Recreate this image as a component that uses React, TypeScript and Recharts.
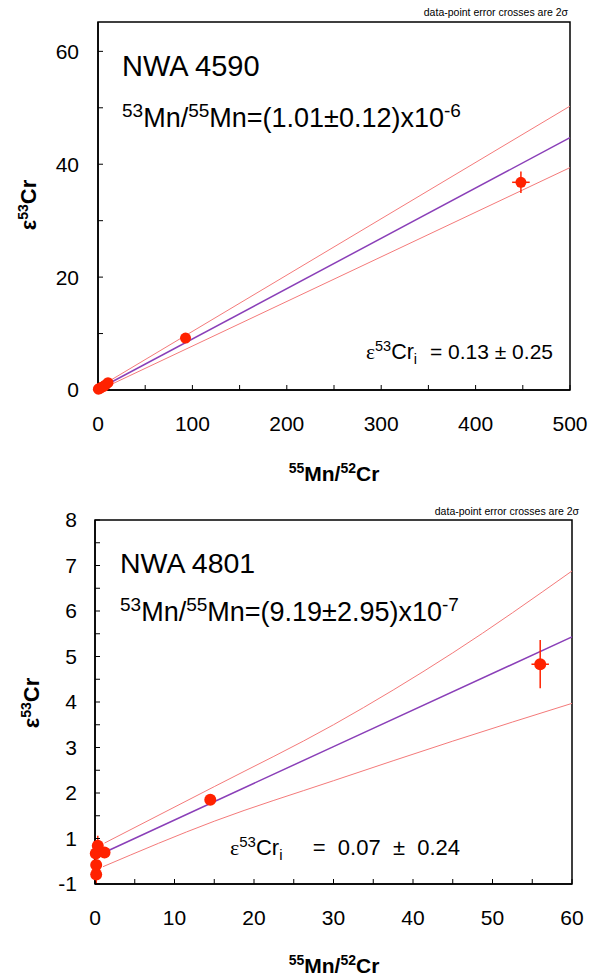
import { ComposedChart, Line, Scatter, ErrorBar, XAxis, YAxis, ReferenceArea } from 'recharts';

// NWA 4590 — measured points (55Mn/52Cr, e53Cr) and 2 sigma errors
const nwa4590Mn = [0.4, 1.2, 2.5, 4, 6, 8, 10.6, 92.7, 448];
const nwa4590Cr = [0.15, 0.25, 0.35, 0.5, 0.65, 0.9, 1.3, 9.2, 36.8];
const nwa4590MnErr = [0.3, 0.5, 0.5, 0.5, 0.5, 0.5, 0.8, 1.5, 9.3];
const nwa4590CrErr = [0.15, 0.25, 0.3, 0.3, 0.3, 0.3, 0.3, 0.4, 1.9];

// NWA 4590 — isochron and envelope
const nwa4590LineX = [0, 500];
const nwa4590Fit = [0.13, 44.7];
const nwa4590Upper = [0.4, 50.3];
const nwa4590LowerX = [1.5, 500];
const nwa4590Lower = [0, 39.4];

// NWA 4801 — measured points
const nwa4801Mn = [0.15, 0.15, 0.1, 1.2, 0.35, 14.5, 56.0];
const nwa4801Cr = [0.21, 0.42, 0.67, 0.69, 0.84, 1.85, 4.83];
const nwa4801MnErr = [0.15, 0.15, 0.1, 0.4, 0.3, 0.4, 1.1];
const nwa4801CrErr = [0.21, 0.1, 0.1, 0.12, 0.22, 0.1, 0.53];

// NWA 4801 — isochron and envelope
const nwa4801LineX = [0, 30, 60];
const nwa4801Fit = [0.6, 3.02, 5.43];
const nwa4801UpperX = [1.2, 15, 30, 45, 60];
const nwa4801Upper = [0.9, 2.14, 3.5, 5.08, 6.88];
const nwa4801LowerX = [1, 15, 30, 45, 60];
const nwa4801Lower = [0.38, 1.38, 2.27, 3.14, 3.97];

// axes
const topXTicks = [0, 50, 100, 150, 200, 250, 300, 350, 400, 450, 500];
const topXLabels: Record<number, string> = { 0: '0', 100: '100', 200: '200', 300: '300', 400: '400', 500: '500' };
const topYTicks = [0, 10, 20, 30, 40, 50, 60];
const topYLabels: Record<number, string> = { 0: '0', 20: '20', 40: '40', 60: '60' };

const botXTicks = [0, 5, 10, 15, 20, 25, 30, 35, 40, 45, 50, 55, 60];
const botXLabels: Record<number, string> = { 0: '0', 10: '10', 20: '20', 30: '30', 40: '40', 50: '50', 60: '60' };
const botYTicks = [0, 0.5, 1, 1.5, 2, 2.5, 3, 3.5, 4, 4.5, 5, 5.5, 6, 6.5, 7, 7.5, 8];
const botYLabels: Record<number, string> = { 0: '-1', 1: '1', 2: '2', 3: '3', 4: '4', 5: '5', 6: '6', 7: '7', 8: '8' };

const sans = 'Liberation Sans, Arial, sans-serif';
const serif = 'Liberation Serif, Times New Roman, serif';
const RED = '#ff2200';
const PURPLE = '#8a3fb8';
const PINK = '#f47a7a';

const toPts = (xs: number[], ys: number[], ex?: number[], ey?: number[]) =>
  xs.map((x, i) => ({ x, y: ys[i], ex: ex ? ex[i] : 0, ey: ey ? ey[i] : 0 }));

const Dot = (r: number) => (p: any) => <circle cx={p.cx} cy={p.cy} r={r} fill={RED} />;

function Panel(props: {
  height: number;
  top: number;
  right: number;
  xAxisHeight: number;
  xMax: number;
  yMax: number;
  xTicks: number[];
  xLabels: Record<number, string>;
  yTicks: number[];
  yLabels: Record<number, string>;
  yWidth: number;
  yMargin: number;
  points: any[];
  fit: any[];
  upper: any[];
  lower: any[];
  r: number;
}) {
  const tick = { fontSize: 21, fill: '#000', fontFamily: sans };
  return (
    <ComposedChart
      width={591}
      height={props.height}
      margin={{ top: props.top, right: props.right, bottom: 0, left: 0 }}
    >
      <XAxis
        dataKey="x"
        type="number"
        domain={[0, props.xMax]}
        ticks={props.xTicks}
        tickFormatter={(v: number) => props.xLabels[v] ?? ''}
        height={props.xAxisHeight}
        tickSize={-5}
        tickMargin={31}
        tick={tick}
        stroke="#000"
        axisLine={{ stroke: '#000', strokeWidth: 1.5 }}
        tickLine={{ stroke: '#000' }}
      />
      <YAxis
        dataKey="y"
        type="number"
        domain={[0, props.yMax]}
        ticks={props.yTicks}
        tickFormatter={(v: number) => props.yLabels[v] ?? ''}
        width={props.yWidth}
        tickSize={-5}
        tickMargin={props.yMargin}
        tick={tick}
        stroke="#000"
        axisLine={{ stroke: '#000', strokeWidth: 1.5 }}
        tickLine={{ stroke: '#000' }}
      />
      <ReferenceArea x1={0} x2={props.xMax} y1={0} y2={props.yMax} fill="none" stroke="#000" strokeWidth={1.5} />
      <Line data={props.upper} type="monotone" dataKey="y" stroke={PINK} strokeWidth={1} dot={false} isAnimationActive={false} />
      <Line data={props.lower} type="monotone" dataKey="y" stroke={PINK} strokeWidth={1} dot={false} isAnimationActive={false} />
      <Line data={props.fit} dataKey="y" stroke={PURPLE} strokeWidth={1.5} dot={false} isAnimationActive={false} />
      <Scatter data={props.points} dataKey="y" shape={Dot(props.r)} isAnimationActive={false}>
        <ErrorBar dataKey="ey" direction="y" width={0} stroke={RED} strokeWidth={1.5} />
        <ErrorBar dataKey="ex" direction="x" width={0} stroke={RED} strokeWidth={1.5} />
      </Scatter>
    </ComposedChart>
  );
}

export default function App() {
  return (
    <div style={{ position: 'relative', width: 591, height: 978, fontFamily: sans }}>
      <style>{`body{margin:0}`}</style>
      <div style={{ position: 'absolute', left: 0, top: 0 }}>
        <Panel
          height={490}
          top={22}
          right={21}
          xAxisHeight={100}
          xMax={500}
          yMax={65.2}
          xTicks={topXTicks}
          xLabels={topXLabels}
          yTicks={topYTicks}
          yLabels={topYLabels}
          yWidth={98}
          yMargin={24}
          points={toPts(nwa4590Mn, nwa4590Cr, nwa4590MnErr, nwa4590CrErr)}
          fit={toPts(nwa4590LineX, nwa4590Fit)}
          upper={toPts(nwa4590LineX, nwa4590Upper)}
          lower={toPts(nwa4590LowerX, nwa4590Lower)}
          r={5.5}
        />
      </div>
      <div style={{ position: 'absolute', left: 0, top: 490 }}>
        <Panel
          height={488}
          top={30}
          right={19}
          xAxisHeight={94}
          xMax={60}
          yMax={8}
          xTicks={botXTicks}
          xLabels={botXLabels}
          yTicks={botYTicks}
          yLabels={botYLabels}
          yWidth={95}
          yMargin={23}
          points={toPts(nwa4801Mn, nwa4801Cr, nwa4801MnErr, nwa4801CrErr)}
          fit={toPts(nwa4801LineX, nwa4801Fit)}
          upper={toPts(nwa4801UpperX, nwa4801Upper)}
          lower={toPts(nwa4801LowerX, nwa4801Lower)}
          r={6}
        />
      </div>
      <svg width={591} height={978} style={{ position: 'absolute', left: 0, top: 0, pointerEvents: 'none' }}>
        {/* top panel */}
        <text x={568} y={16} fontSize={10.5} textAnchor="end" fontFamily={sans}>data-point error crosses are 2σ</text>
        <text x={122} y={76} fontSize={29} fontFamily={sans}>NWA 4590</text>
        <text x={122} y={127} fontSize={27} fontFamily={sans}>
          <tspan fontSize={19} dy={-10}>53</tspan>
          <tspan dy={10}>Mn/</tspan>
          <tspan fontSize={19} dy={-10}>55</tspan>
          <tspan dy={10}>Mn=(1.01±0.12)x10</tspan>
          <tspan fontSize={19} dy={-10}>-6</tspan>
        </text>
        <text x={366} y={359} fontSize={21.5} fontFamily={sans}>
          <tspan fontFamily={serif}>ε</tspan>
          <tspan fontSize={14.5} dy={-8}>53</tspan>
          <tspan dy={8}>Cr</tspan>
          <tspan fontSize={14.5} dy={5}>i</tspan>
        </text>
        <text x={553} y={359} fontSize={21} textAnchor="end" fontFamily={sans}>= 0.13 ± 0.25</text>
        <text x={334} y={481} fontSize={21} fontWeight="bold" textAnchor="middle" fontFamily={sans}>
          <tspan fontSize={14} dy={-8}>55</tspan>
          <tspan dy={8}>Mn/</tspan>
          <tspan fontSize={14} dy={-8}>52</tspan>
          <tspan dy={8}>Cr</tspan>
        </text>
        <text transform="translate(36,205) rotate(-90)" fontSize={22} fontWeight="bold" textAnchor="middle" fontFamily={sans}>
          <tspan>ε</tspan>
          <tspan fontSize={14} dy={-8}>53</tspan>
          <tspan dy={8}>Cr</tspan>
        </text>

        {/* bottom panel */}
        <text x={579} y={515} fontSize={10.5} textAnchor="end" fontFamily={sans}>data-point error crosses are 2σ</text>
        <text x={120} y={573} fontSize={28.5} fontFamily={sans}>NWA 4801</text>
        <text x={120} y={621} fontSize={27} fontFamily={sans}>
          <tspan fontSize={19} dy={-10}>53</tspan>
          <tspan dy={10}>Mn/</tspan>
          <tspan fontSize={19} dy={-10}>55</tspan>
          <tspan dy={10}>Mn=(9.19±2.95)x10</tspan>
          <tspan fontSize={19} dy={-10}>-7</tspan>
        </text>
        <text x={230} y={855} fontSize={22} fontFamily={sans}>
          <tspan fontFamily={serif}>ε</tspan>
          <tspan fontSize={15} dy={-8}>53</tspan>
          <tspan dy={8}>Cr</tspan>
          <tspan fontSize={15} dy={5}>i</tspan>
        </text>
        <text x={460} y={855} fontSize={22} textAnchor="end" fontFamily={sans} style={{ whiteSpace: 'pre' }}>{'=  0.07  ±  0.24'}</text>
        <text x={334} y={973} fontSize={21} fontWeight="bold" textAnchor="middle" fontFamily={sans}>
          <tspan fontSize={14} dy={-8}>55</tspan>
          <tspan dy={8}>Mn/</tspan>
          <tspan fontSize={14} dy={-8}>52</tspan>
          <tspan dy={8}>Cr</tspan>
        </text>
        <text transform="translate(39,703) rotate(-90)" fontSize={22} fontWeight="bold" textAnchor="middle" fontFamily={sans}>
          <tspan>ε</tspan>
          <tspan fontSize={14} dy={-8}>53</tspan>
          <tspan dy={8}>Cr</tspan>
        </text>
      </svg>
    </div>
  );
}
